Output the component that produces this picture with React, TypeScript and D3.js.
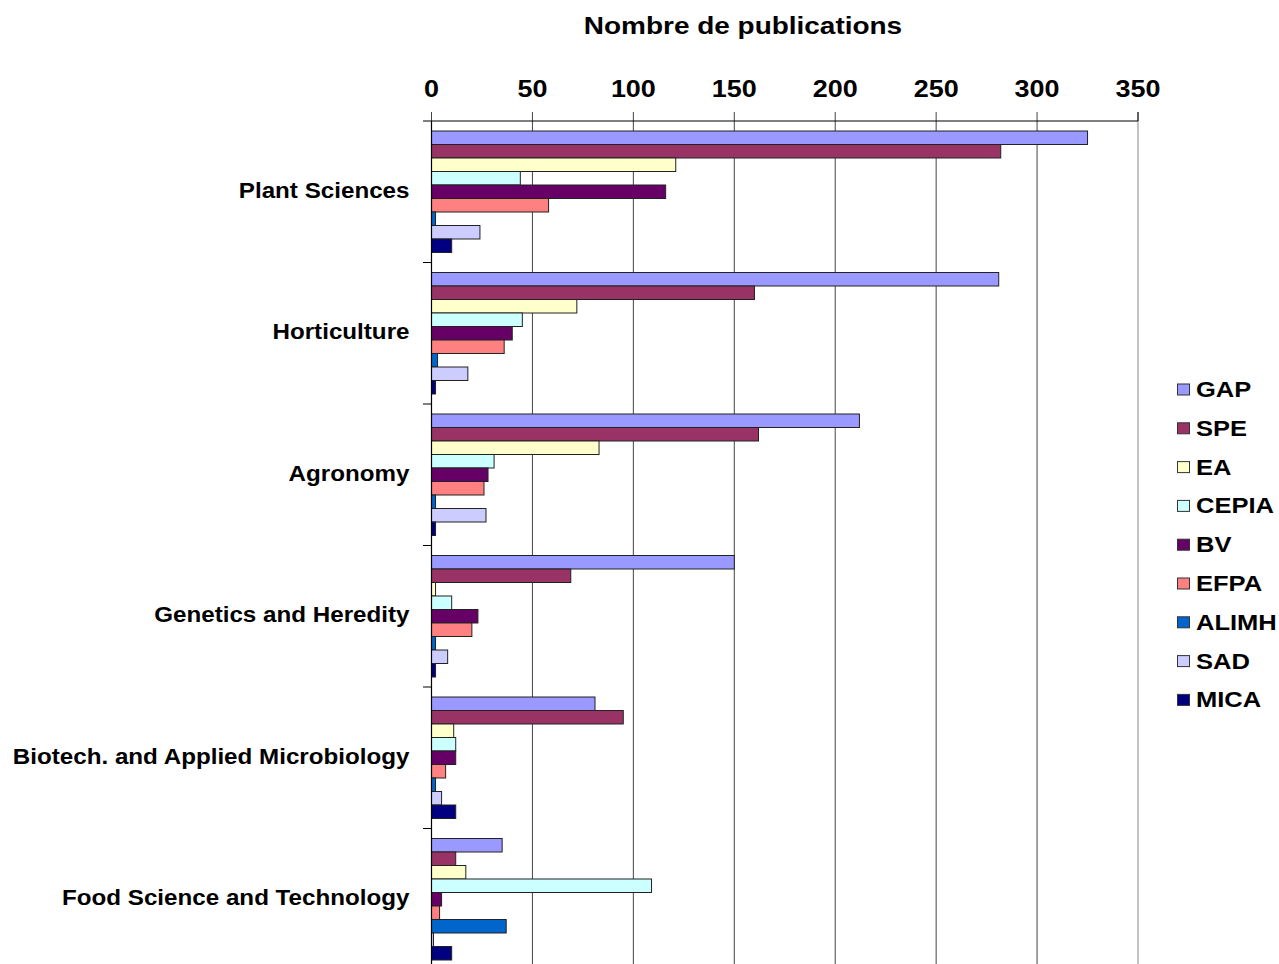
import React from "react";
import * as d3 from "d3";

const categories = [
  "Plant Sciences",
  "Horticulture",
  "Agronomy",
  "Genetics and Heredity",
  "Biotech. and Applied Microbiology",
  "Food Science and Technology",
];
const seriesNames = ["GAP", "SPE", "EA", "CEPIA", "BV", "EFPA", "ALIMH", "SAD", "MICA"];
const seriesColors = ["#9999FF", "#993366", "#FFFFCC", "#CCFFFF", "#660066", "#FF8080", "#0066CC", "#CCCCFF", "#000080"];
const GAP = [325, 281, 212, 150, 81, 35];
const SPE = [282, 160, 162, 69, 95, 12];
const EA = [121, 72, 83, 2, 11, 17];
const CEPIA = [44, 45, 31, 10, 12, 109];
const BV = [116, 40, 28, 23, 12, 5];
const EFPA = [58, 36, 26, 20, 7, 4];
const ALIMH = [2, 3, 2, 2, 2, 37];
const SAD = [24, 18, 27, 8, 5, 1];
const MICA = [10, 2, 2, 2, 12, 10];
const seriesValues = [GAP, SPE, EA, CEPIA, BV, EFPA, ALIMH, SAD, MICA];
const tickValues = [0, 50, 100, 150, 200, 250, 300, 350];
const title = "Nombre de publications";

const W = 1279;
const H = 964;
const X0 = 431.5;
const X1 = 1138;
const Y0 = 121;
const Y1 = 970;
const FONT = "'Liberation Sans', Arial, sans-serif";

export default function App() {
  const x = d3.scaleLinear().domain([0, 350]).range([X0, X1]);
  const y = d3.scaleBand<string>().domain(categories).range([Y0, Y1]).paddingInner(0).paddingOuter(0);
  const bw = y.bandwidth();
  const inner = d3.scaleBand<string>().domain(seriesNames).range([10, bw - 10]).padding(0);

  return (
    <svg
      width={W}
      height={H}
      style={{ position: "absolute", left: 0, top: 0, background: "#fff" }}
      fontFamily={FONT}
    >
      <rect x={0} y={0} width={W} height={H} fill="#fff" />
      {/* title */}
      <text
        transform={`translate(743,34) scale(1.19,1)`}
        textAnchor="middle"
        fontSize={23.5}
        fontWeight="bold"
        fill="#000"
      >
        {title}
      </text>
      {/* gridlines + ticks */}
      {tickValues.map((t) => (
        <g key={t}>
          <line
            x1={x(t)}
            x2={x(t)}
            y1={112}
            y2={t === 0 ? 121 : Y1}
            stroke={t === 350 ? "#888" : "#444"}
            strokeWidth={1}
          />
          {t === 350 && <line x1={x(t)} x2={x(t)} y1={112} y2={121} stroke="#000" />}
          <text
            transform={`translate(${x(t)},96.5) scale(1.1,1)`}
            textAnchor="middle"
            fontSize={24.5}
            fontWeight="bold"
            fill="#000"
          >
            {t}
          </text>
        </g>
      ))}
      {/* bars */}
      {categories.map((c, ci) => (
        <g key={c} transform={`translate(0,${y(c)})`}>
          {seriesNames.map((s, si) => {
            const v = seriesValues[si][ci];
            return (
              <rect
                key={s}
                x={x(0)}
                y={inner(s)}
                width={Math.max(0.5, x(v) - x(0))}
                height={inner.bandwidth()}
                fill={seriesColors[si]}
                stroke="#222"
                strokeWidth={1}
              />
            );
          })}
        </g>
      ))}
      {/* axes */}
      <line x1={423} x2={X1} y1={Y0} y2={Y0} stroke="#000" strokeWidth={1.2} />
      <line x1={X0} x2={X0} y1={Y0} y2={Y1} stroke="#000" strokeWidth={1.2} />
      {categories.map((c) => (
        <line key={c} x1={423} x2={X0} y1={(y(c) as number) + bw} y2={(y(c) as number) + bw} stroke="#000" />
      ))}
      {/* category labels */}
      {categories.map((c) => (
        <text
          key={c}
          transform={`translate(409.5,${(y(c) as number) + bw / 2 + 6}) scale(1.125,1)`}
          textAnchor="end"
          fontSize={21.5}
          fontWeight="bold"
          fill="#000"
        >
          {c}
        </text>
      ))}
      {/* legend */}
      {seriesNames.map((s, i) => {
        const ly = 389 + i * 38.8;
        return (
          <g key={s}>
            <rect x={1177.5} y={ly - 5} width={12} height={11} fill={seriesColors[i]} stroke="#333" strokeWidth={1} />
            <text
              transform={`translate(1196,${ly + 8}) scale(1.16,1)`}
              fontSize={22}
              fontWeight="bold"
              fill="#000"
            >
              {s}
            </text>
          </g>
        );
      })}
    </svg>
  );
}
